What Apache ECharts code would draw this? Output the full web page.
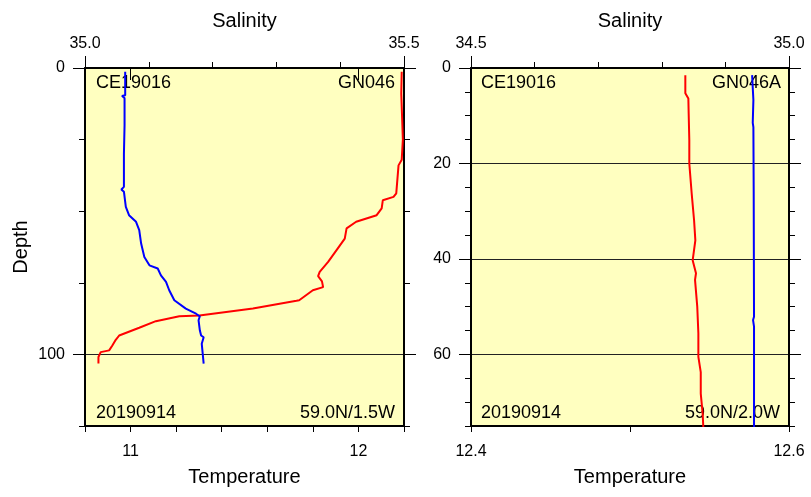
<!DOCTYPE html>
<html>
<head>
<meta charset="utf-8">
<title>CE19016 profiles</title>
<script src="https://cdn.jsdelivr.net/npm/echarts@6/dist/echarts.min.js"></script>
<style>
  html, body { margin: 0; padding: 0; background: #fff; }
  #chart { width: 811px; height: 497px; }
</style>
</head>
<body>
<div id="chart"></div>
<script>
// GN046 (left panel)
const gn046TempDepth = [1.3, 8.9, 25, 32, 34, 43.8, 45, 46.2, 49, 51.4, 53.7, 56, 59.6, 63.6, 67.7, 71.2, 72.7, 74.5, 76.5, 77.6, 81.1, 81.3, 84, 86.4, 86.7, 88.4, 90.7, 93.4, 94.9, 96.9, 98.6, 99.2, 100.9, 103.2];
const gn046Temp = [12.19, 12.188, 12.195, 12.19, 12.176, 12.166, 12.154, 12.107, 12.102, 12.08, 11.99, 11.948, 11.94, 11.904, 11.867, 11.83, 11.823, 11.84, 11.845, 11.8, 11.74, 11.728, 11.537, 11.302, 11.214, 11.111, 11.038, 10.95, 10.935, 10.92, 10.906, 10.869, 10.859, 10.859];
const gn046SalDepth = [1.3, 9.5, 9.8, 10.5, 20, 30, 41.5, 42.4, 43.2, 48.5, 51.4, 53.7, 56.6, 61.3, 66, 68.9, 70, 72.4, 74.7, 77.6, 81.1, 84, 85.8, 86.7, 88.1, 91.6, 93.4, 94, 96.3, 98.6, 103.2];
const gn046Sal = [35.063, 35.063, 35.058, 35.062, 35.062, 35.061, 35.061, 35.057, 35.061, 35.064, 35.069, 35.08, 35.085, 35.088, 35.093, 35.101, 35.114, 35.119, 35.127, 35.132, 35.14, 35.158, 35.174, 35.18, 35.178, 35.18, 35.182, 35.186, 35.183, 35.184, 35.186];

// GN046A (right panel)
const gn046aTempDepth = [1.5, 5.3, 6.4, 9.5, 15.1, 20, 26.3, 31.9, 36.1, 40.3, 43, 44.4, 50, 55.6, 60.5, 63.7, 68.2, 72.4, 75.2];
const gn046aTemp = [12.5348, 12.5348, 12.5367, 12.5369, 12.5373, 12.5373, 12.5388, 12.5403, 12.5411, 12.5394, 12.5415, 12.5409, 12.5423, 12.543, 12.543, 12.5445, 12.5445, 12.5457, 12.5461];
const gn046aSalDepth = [1.5, 6.7, 11.5, 11.9, 12.4, 26, 52.1, 52.8, 54.2, 75.2];
const gn046aSal = [34.942, 34.944, 34.943, 34.941, 34.944, 34.9445, 34.945, 34.9435, 34.945, 34.945];

// axis ticks / labels
const leftTempLabels = [11, 12];
const leftSalLabels = [35.0, 35.5];
const leftDepthLabels = [0, 100];
const rightTempLabels = [12.4, 12.6];
const rightSalLabels = [34.5, 35.0];
const rightDepthLabels = [0, 20, 40, 60];

const FONT = 'Liberation Sans';

function pairs(xs, ys) {
  return xs.map((x, i) => [x, ys[i]]);
}

function minorX(grid, pos, min, max, step) {
  return {
    type: 'value', gridIndex: grid, position: pos, min: min, max: max, interval: step,
    axisLine: { show: true, onZero: false, lineStyle: { color: '#000', width: 2 } },
    axisTick: { show: true, length: 6, lineStyle: { color: '#000', width: 1 } },
    axisLabel: { show: false },
    splitLine: { show: false }
  };
}

function majorX(grid, pos, min, max, values, digits, name, gap, margin) {
  return {
    type: 'value', gridIndex: grid, position: pos, min: min, max: max,
    name: name, nameLocation: 'middle', nameGap: gap,
    nameTextStyle: { fontFamily: FONT, fontSize: 20, color: '#000' },
    axisLine: { show: false },
    axisTick: { show: true, length: 12, customValues: values, lineStyle: { color: '#000', width: 1 } },
    axisLabel: {
      show: true, customValues: values, margin: margin,
      fontFamily: FONT, fontSize: 16, color: '#000',
      formatter: v => v.toFixed(digits)
    },
    splitLine: { show: false }
  };
}

function minorY(grid, pos, max, step) {
  return {
    type: 'value', gridIndex: grid, position: pos, inverse: true, min: 0, max: max, interval: step,
    axisLine: { show: true, onZero: false, lineStyle: { color: '#000', width: 2 } },
    axisTick: { show: true, length: 6, lineStyle: { color: '#000', width: 1 } },
    axisLabel: { show: false },
    splitLine: { show: false }
  };
}

function majorY(grid, pos, max, step, values, showLabel, name) {
  return {
    type: 'value', gridIndex: grid, position: pos, inverse: true, min: 0, max: max, interval: step,
    name: name, nameLocation: 'middle', nameGap: 54, nameRotate: 90,
    nameTextStyle: { fontFamily: FONT, fontSize: 20, color: '#000' },
    axisLine: { show: false },
    axisTick: { show: true, length: 12, customValues: values, lineStyle: { color: '#000', width: 1 } },
    axisLabel: {
      show: showLabel, customValues: values, margin: 20,
      fontFamily: FONT, fontSize: 16, color: '#000'
    },
    splitLine: { show: true, lineStyle: { color: '#222', width: 1 } }
  };
}

function label(text, x, y, align) {
  return {
    type: 'text', x: x, y: y, z: 1,
    style: {
      text: text, font: '18px "' + FONT + '"', fill: '#000',
      align: align, verticalAlign: 'middle',
      textAlign: align, textVerticalAlign: 'middle'
    }
  };
}

const myChart = echarts.init(document.getElementById('chart'), null, { renderer: 'canvas' });

const option = {
  animation: false,
  backgroundColor: '#fff',
  grid: [
    { left: 85, top: 68, width: 319, height: 358, show: true, backgroundColor: '#ffffc0', borderWidth: 0, outerBoundsMode: 'none' },
    { left: 471, top: 68, width: 318, height: 358, show: true, backgroundColor: '#ffffc0', borderWidth: 0, outerBoundsMode: 'none' }
  ],
  xAxis: [
    minorX(0, 'bottom', 10.8, 12.2, 0.2),
    majorX(0, 'bottom', 10.8, 12.2, leftTempLabels, 0, 'Temperature', 41, 18),
    minorX(0, 'top', 35.0, 35.5, 0.1),
    majorX(0, 'top', 35.0, 35.5, leftSalLabels, 1, 'Salinity', 37, 16),
    minorX(1, 'bottom', 12.4, 12.6, 0.1),
    majorX(1, 'bottom', 12.4, 12.6, rightTempLabels, 1, 'Temperature', 41, 18),
    minorX(1, 'top', 34.5, 35.0, 0.1),
    majorX(1, 'top', 34.5, 35.0, rightSalLabels, 1, 'Salinity', 37, 16)
  ],
  yAxis: [
    minorY(0, 'left', 125, 25),
    majorY(0, 'left', 125, 100, leftDepthLabels, true, 'Depth'),
    minorY(0, 'right', 125, 25),
    majorY(0, 'right', 125, 100, leftDepthLabels, false, ''),
    minorY(1, 'left', 75, 5),
    majorY(1, 'left', 75, 20, rightDepthLabels, true, ''),
    minorY(1, 'right', 75, 5),
    majorY(1, 'right', 75, 20, rightDepthLabels, false, '')
  ],
  graphic: [
    label('CE19016', 96, 83.5, 'left'),
    label('GN046', 395, 83.5, 'right'),
    label('20190914', 96, 413.5, 'left'),
    label('59.0N/1.5W', 395, 413.5, 'right'),
    label('CE19016', 481, 83.5, 'left'),
    label('GN046A', 781, 83.5, 'right'),
    label('20190914', 481, 413.5, 'left'),
    label('59.0N/2.0W', 780, 413.5, 'right')
  ],
  series: [
    {
      name: 'Temperature', type: 'line', xAxisIndex: 0, yAxisIndex: 0, z: 3,
      data: pairs(gn046Temp, gn046TempDepth),
      showSymbol: false, lineStyle: { color: '#ff0000', width: 2 }, itemStyle: { color: '#ff0000' }
    },
    {
      name: 'Salinity', type: 'line', xAxisIndex: 2, yAxisIndex: 0, z: 3,
      data: pairs(gn046Sal, gn046SalDepth),
      showSymbol: false, lineStyle: { color: '#0000ff', width: 2 }, itemStyle: { color: '#0000ff' }
    },
    {
      name: 'Temperature', type: 'line', xAxisIndex: 4, yAxisIndex: 4, z: 3,
      data: pairs(gn046aTemp, gn046aTempDepth),
      showSymbol: false, lineStyle: { color: '#ff0000', width: 2 }, itemStyle: { color: '#ff0000' }
    },
    {
      name: 'Salinity', type: 'line', xAxisIndex: 6, yAxisIndex: 4, z: 3,
      data: pairs(gn046aSal, gn046aSalDepth),
      showSymbol: false, lineStyle: { color: '#0000ff', width: 2 }, itemStyle: { color: '#0000ff' }
    }
  ]
};

myChart.setOption(option);
</script>
</body>
</html>
